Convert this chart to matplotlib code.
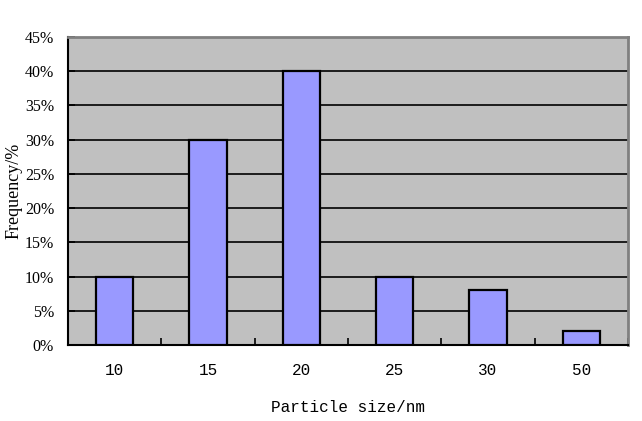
import matplotlib.pyplot as plt
import numpy as np
from matplotlib.ticker import FixedLocator, PercentFormatter

sizes = ["10", "15", "20", "25", "30", "50"]
frequency = [10, 30, 40, 10, 8, 2]
y_ticks = [0, 5, 10, 15, 20, 25, 30, 35, 40, 45]

fig = plt.figure(figsize=(6.42, 4.21), dpi=100)
ax = fig.add_axes([68 / 642, 76 / 421, 560 / 642, 308 / 421])
ax.set_facecolor("#C0C0C0")

x = np.arange(len(sizes))
ax.bar(x, frequency, width=0.4, color="#9999FF", edgecolor="black", linewidth=1.6, zorder=3)

ax.set_xlim(-0.5, len(sizes) - 0.5)
ax.set_ylim(0, 45)
ax.set_yticks(y_ticks)
ax.yaxis.set_major_formatter(PercentFormatter(decimals=0))
ax.grid(axis="y", color="black", linewidth=1.2, zorder=1)
ax.set_axisbelow(True)

ax.set_xticks(x)
ax.set_xticklabels(sizes, family="Liberation Mono", fontsize=11.5)
ax.xaxis.set_minor_locator(FixedLocator(np.arange(-0.5, len(sizes), 1.0)))
ax.tick_params(axis="x", which="major", length=0, pad=13)
ax.tick_params(axis="x", which="minor", direction="in", length=5, width=1.2, color="black")
ax.tick_params(axis="y", direction="in", length=5, width=1.2, pad=10)
for label in ax.get_yticklabels():
    label.set_family("Liberation Serif")
    label.set_fontsize(11.5)

ax.spines["left"].set_linewidth(1.5)
ax.spines["bottom"].set_linewidth(1.5)
ax.spines["top"].set_color("#808080")
ax.spines["top"].set_linewidth(2)
ax.spines["right"].set_color("#808080")
ax.spines["right"].set_linewidth(2)

ax.set_xlabel("Particle size/nm", family="Liberation Mono", fontsize=11.5)
ax.set_ylabel("Frequency/%", family="Liberation Serif", fontsize=13)
ax.xaxis.set_label_coords(0.5, -62 / 308, transform=ax.transAxes)
ax.yaxis.set_label_coords(-(68 - 14) / 560, 0.5, transform=ax.transAxes)
ax.xaxis.label.set_verticalalignment("center")
ax.yaxis.label.set_verticalalignment("center")

fig.savefig("out.png", dpi=100)
